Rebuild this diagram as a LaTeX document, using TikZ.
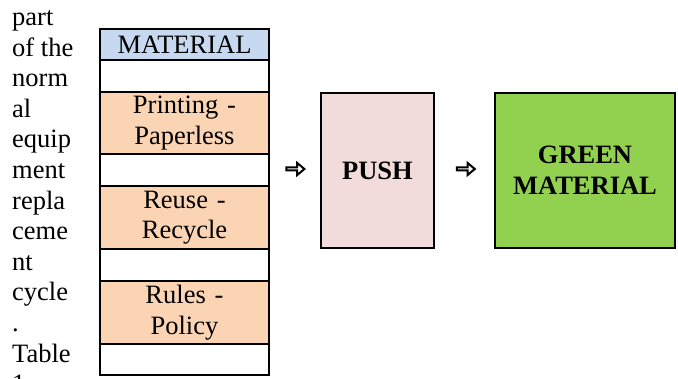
\documentclass[tikz,border=0pt]{standalone}
\usepackage{fontspec}
\setmainfont{Liberation Serif}
\usetikzlibrary{shapes.arrows}
\definecolor{hdrblue}{HTML}{C6D9F1}
\definecolor{rowpeach}{HTML}{FBD4B4}
\definecolor{pushpink}{HTML}{F2DCDB}
\definecolor{leafgreen}{HTML}{92D050}
\tikzset{
  txt/.style={font=\fontsize{26.5}{30.6}\selectfont},
  cell/.style={txt, draw=black, line width=2pt, inner sep=0pt, align=center,
    minimum width=169pt, text width=165pt},
  bigbox/.style={txt, draw=black, line width=2pt, inner sep=0pt, align=center,
    font=\fontsize{26.5}{30.6}\selectfont\bfseries},
  hollowarrow/.style={single arrow, draw=black, fill=white, line width=2pt,
    minimum width=12pt, minimum height=18pt, single arrow head extend=3pt,
    single arrow tip angle=80, inner sep=0pt}
}
\begin{document}
\begin{tikzpicture}[x=1pt, y=-1pt]
\clip (0,0) rectangle (678,379);
\fill[white] (0,0) rectangle (678,379);

% running text column
\foreach [count=\i] \w in {part,of the,norm,al,equip,ment,repla,ceme,nt,cycle,.,Table,1}
  \node[txt, anchor=base west, inner sep=0pt] (line\i) at (12,{25.5+30.6*(\i-1)}) {\w};

% material table
\node[cell, fill=hdrblue, minimum height=31pt] (mat) at (184.5,44.5) {MATERIAL};
\node[cell, fill=white, minimum height=32pt] (gap1) at (184.5,76) {};
\node[cell, fill=rowpeach, minimum height=62pt] (print) at (184.5,123) {Printing -\\Paperless};
\node[cell, fill=white, minimum height=32pt] (gap2) at (184.5,170) {};
\node[cell, fill=rowpeach, minimum height=63pt] (reuse) at (184.5,217.5) {Reuse -\\Recycle};
\node[cell, fill=white, minimum height=32pt] (gap3) at (184.5,265) {};
\node[cell, fill=rowpeach, minimum height=63pt] (rules) at (184.5,312.5) {Rules -\\Policy};
\node[cell, fill=white, minimum height=31pt] (gap4) at (184.5,359.5) {};

% flow boxes
\node[bigbox, fill=pushpink, minimum width=113pt, minimum height=155.5pt] (push) at (377.5,170.5) {PUSH};
\node[bigbox, fill=leafgreen, minimum width=180pt, minimum height=155.5pt] (green) at (585,170.5) {GREEN\\MATERIAL};

% hollow arrows between the stages
\node[hollowarrow] (arr1) at (294.5,169) {};
\node[hollowarrow] (arr2) at (464.9,169) {};
\end{tikzpicture}
\end{document}
